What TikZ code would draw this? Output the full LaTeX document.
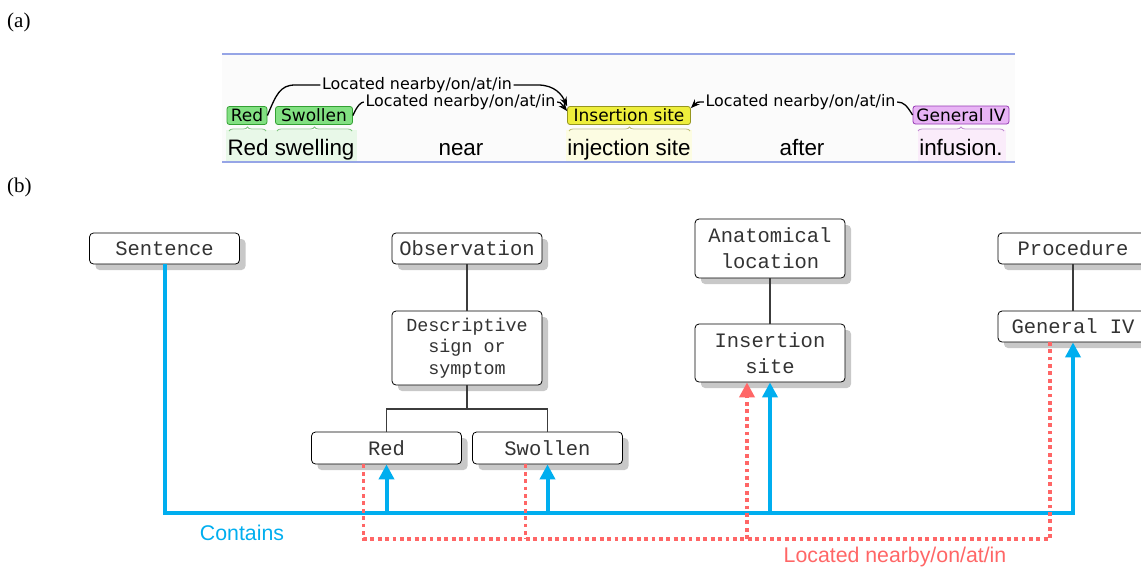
\documentclass[tikz,border=0pt]{standalone}
\usepackage{fontspec}
\setmainfont{Liberation Serif}
\setsansfont{Liberation Sans}
\setmonofont{Liberation Mono}
\newfontfamily\djv{DejaVu Sans}
\usetikzlibrary{shadows,arrows.meta,calc,decorations.pathreplacing}
\definecolor{cblue}{RGB}{0,174,239}
\definecolor{cred}{RGB}{255,102,102}
\definecolor{frame}{RGB}{150,165,230}
\definecolor{tgreen}{RGB}{130,224,130}
\definecolor{tgreenb}{RGB}{50,160,50}
\definecolor{tyel}{RGB}{238,238,60}
\definecolor{tyelb}{RGB}{150,150,30}
\definecolor{tpur}{RGB}{232,180,245}
\definecolor{tpurb}{RGB}{150,60,180}
\definecolor{shade}{RGB}{200,200,200}
\definecolor{treeline}{RGB}{60,60,60}
\definecolor{hlgreen}{RGB}{232,248,232}
\definecolor{hlyel}{RGB}{252,252,226}
\definecolor{hlpur}{RGB}{250,236,250}
\begin{document}
\begin{tikzpicture}[x=1pt,y=-1pt,
 box/.style={draw=black, line width=0.8pt, rounded corners=4pt, fill=white, text=black!80, minimum width=150pt, align=center, inner sep=2pt, font=\ttfamily\fontsize{20.5}{26}\selectfont, drop shadow={shadow xshift=6pt, shadow yshift=-6pt, fill=shade, opacity=1}},
 tag/.style={draw, line width=0.8pt, rounded corners=2.5pt, inner sep=0.5pt, font=\djv\fontsize{17}{18}\selectfont, minimum height=18pt},
 arclabel/.style={inner sep=1.5pt, font=\djv\fontsize{15.9}{16}\selectfont},
 word/.style={anchor=base, inner sep=0pt, font=\sffamily\fontsize{22.4}{24}\selectfont},
 arcline/.style={line width=1.3pt, draw=black},
 tip/.style={-{Stealth[length=9pt,width=7pt]}},
 tree/.style={line width=1.2pt, draw=treeline},
 blueline/.style={line width=4pt, draw=cblue},
 bluetip/.style={-{Triangle[length=15pt,width=15pt]}},
 redline/.style={line width=3.8pt, draw=cred, dash pattern=on 3.8pt off 3.6pt},
 redtip/.style={-{Triangle[length=15pt,width=15pt]}},
 brace/.style={decorate, decoration={brace, amplitude=4pt}, line width=0.8pt},
 panellabel/.style={anchor=west, inner sep=0pt, font=\fontsize{21}{24}\selectfont},
 edgelabel/.style={inner sep=0pt, font=\sffamily\fontsize{21.3}{24}\selectfont},
]
\useasboundingbox (0,0) rectangle (1141,568);

% panel labels
\node[panellabel] (pa) at (7,22) {(a)};
\node[panellabel] (pb) at (7,187) {(b)};

% ---------- panel (a)
\fill[white!98.5!black] (222,55) rectangle (1015,162);
\draw[frame, line width=1.5pt] (222,54) -- (1015,54);
\draw[frame, line width=1.5pt] (222,162) -- (1015,162);
\fill[hlgreen] (226,130) rectangle (357,161);
\fill[hlyel] (566,130) rectangle (692,161);
\fill[hlpur] (918,130) rectangle (1006,161);

\node[tag, fill=tgreen, draw=tgreenb, minimum width=40pt] (redtag) at (247,115.5) {Red};
\node[tag, fill=tgreen, draw=tgreenb, minimum width=77pt] (swtag) at (314,115.5) {Swollen};
\node[tag, fill=tyel, draw=tyelb, minimum width=123pt] (instag) at (629,115.5) {Insertion site};
\node[tag, fill=tpur, draw=tpurb, minimum width=96pt] (gentag) at (961,115) {General IV};

\draw[brace, draw=tgreenb!60] (229,131) -- (266,131);
\draw[brace, draw=tgreenb!60] (277,131) -- (352,131);
\draw[brace, draw=tyelb!60] (569,131) -- (690,131);
\draw[brace, draw=tpurb!60] (918,131) -- (1004,131);

\node[word] (w1) at (291,155) {Red swelling};
\node[word] (w2) at (461,155) {near};
\node[word] (w3) at (629,155) {injection site};
\node[word] (w4) at (802,155) {after};
\node[word] (w5) at (961,155) {infusion.};

\node[arclabel] (l1) at (417,85) {Located nearby/on/at/in};
\node[arclabel] (l2) at (460.5,102) {Located nearby/on/at/in};
\node[arclabel] (l3) at (800.5,102) {Located nearby/on/at/in};

\draw[arcline] (redtag.east) .. controls (276,95) and (280,85) .. (295,85) -- (l1.west);
\draw[arcline,tip] (l1.east) -- (538,85) .. controls (555,85) and (562,95) .. (instag.north west);
\draw[arcline] (swtag.east) .. controls (357,106) and (361,102) .. (l2.west);
\draw[arcline,tip] (l2.east) .. controls (560,102) .. ($(instag.north west)+(0,5)$);
\draw[arcline] (gentag.west) .. controls (907,106) and (904,102) .. (l3.east);
\draw[arcline,tip] (l3.west) .. controls (697,102) .. ($(instag.north east)+(0,2)$);

% ---------- panel (b)
\node[box, minimum height=31pt] (sent) at (164.5,248.5) {Sentence};
\node[box, minimum height=31pt] (obs) at (467,248.5) {Observation};
\node[box, minimum height=74pt, font=\ttfamily\fontsize{18.4}{21.5}\selectfont] (desc) at (467,348) {Descriptive\\sign or\\symptom};
\node[box, minimum height=32pt] (red) at (386.5,448) {Red};
\node[box, minimum height=32pt] (swo) at (547.5,448) {Swollen};
\node[box, minimum height=59pt] (anat) at (770,248.5) {Anatomical\\location};
\node[box, minimum height=58pt] (ins) at (770,353) {Insertion\\site};
\node[box, minimum height=31pt] (proc) at (1073,248.5) {Procedure};
\node[box, minimum height=31pt] (gen) at (1073,326.5) {General IV};

% tree lines
\coordinate (tj) at (0,409);
\draw[tree] (obs.south) -- (desc.north);
\draw[tree] (desc.south) -- (desc.south |- tj);
\draw[tree] (red.north) |- (tj -| swo.north) -- (swo.north);
\draw[tree] (anat.south) -- (ins.north);
\draw[tree] (proc.south) -- (gen.north);

% blue "Contains"
\coordinate (busy) at (0,513);
\draw[blueline, bluetip] (sent.south) |- (busy -| gen.south) -- (gen.south);
\draw[blueline, bluetip] (red.south |- busy) -- (red.south);
\draw[blueline, bluetip] (swo.south |- busy) -- (swo.south);
\draw[blueline, bluetip] (ins.south |- busy) -- (ins.south);
\node[edgelabel, text=cblue] (contains) at (242,533) {Contains};

% red "Located nearby"
\coordinate (lby) at (0,539);
\coordinate (rd1) at ($(red.south)+(-23,0)$);
\coordinate (rd2) at ($(swo.south)+(-22,0)$);
\coordinate (rd3) at ($(ins.south)+(-23,0)$);
\coordinate (rd4) at ($(gen.south)+(-23,0)$);
\draw[redline] (rd1) |- (lby -| rd4) -- (rd4);
\draw[redline] (rd2) -- (rd2 |- lby);
\draw[redline, redtip] (rd3 |- lby) -- (rd3);
\node[edgelabel, text=cred] (located) at (895,557) {Located nearby/on/at/in};
\end{tikzpicture}
\end{document}
